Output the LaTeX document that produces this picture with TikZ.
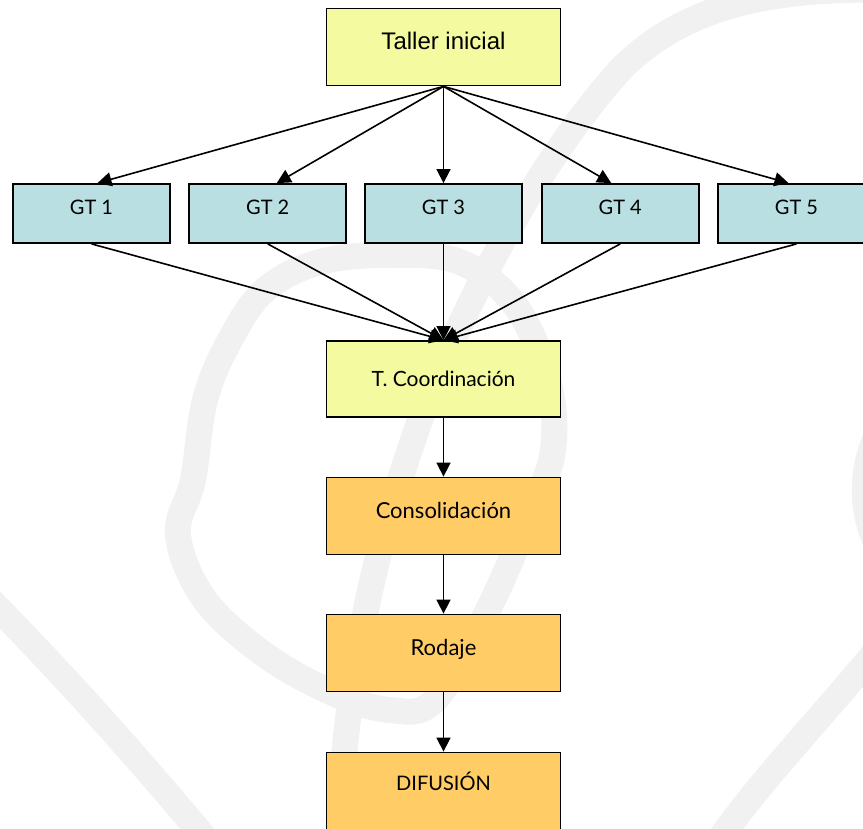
\documentclass[tikz,border=0pt]{standalone}
\usepackage{fontspec}
\setmainfont{Lato}
\newfontfamily\arialf{Liberation Sans}
\usetikzlibrary{arrows.meta,calc}
\definecolor{ylw}{RGB}{243,250,160}
\definecolor{cyn}{RGB}{185,223,226}
\definecolor{org}{RGB}{255,204,102}
\definecolor{wmk}{RGB}{241,241,241}
\begin{document}
\begin{tikzpicture}[x=1pt,y=-1pt]
\tikzset{
  wm/.style={draw=wmk, line width=26pt, line cap=round},
  bigbox/.style={draw=black, line width=1.8pt, minimum width=234pt, minimum height=77pt, inner sep=0pt, text depth=10pt, font=\fontsize{21}{25}\selectfont},
  gtbox/.style={draw=black, line width=1.8pt, fill=cyn, minimum width=157pt, minimum height=59pt, inner sep=0pt, text depth=10pt, text height=12pt, font=\fontsize{20}{24}\selectfont},
  conn/.style={line width=1.6pt, -{Triangle[length=14pt,width=14pt]}}
}
% background and bounding box
\fill[white] (0,0) rectangle (863,829);
\useasboundingbox (0,0) rectangle (863,829);
% watermark
\begin{scope}
\clip (0,0) rectangle (863,829);
\draw[wm] (900,-10) .. controls (760,-14) and (680,10) .. (620,70) .. controls (540,160) and (470,290) .. (420,420) .. controls (385,520) and (345,650) .. (338,850);
\draw[wm] plot[smooth cycle, tension=0.6] coordinates {(193,480) (205,400) (230,340) (265,290) (320,262) (390,255) (460,262) (515,305) (548,380) (553,450) (530,514) (487,612) (435,700) (390,710) (333,693) (265,655) (205,600) (178,535)};
\draw[wm] (-20,590) .. controls (60,670) and (140,760) .. (215,850);
\draw[wm] (885,640) .. controls (820,720) and (760,780) .. (712,850);
\draw[wm] (885,420) .. controls (858,465) and (858,515) .. (885,560);
\end{scope}
% nodes
\node[bigbox, fill=ylw, font=\arialf\fontsize{24}{28}\selectfont, text height=15pt] (taller) at (443.5,47) {Taller inicial};
\node[gtbox] (gt1) at (91.5,213.5) {GT 1};
\node[gtbox] (gt2) at (267.75,213.5) {GT 2};
\node[gtbox] (gt3) at (443.5,213.5) {GT 3};
\node[gtbox] (gt4) at (620.25,213.5) {GT 4};
\node[gtbox] (gt5) at (796.5,213.5) {GT 5};
\node[bigbox, fill=ylw, text height=24pt, minimum height=76pt] (coord) at (443.5,379) {T. Coordinación};
\node[bigbox, fill=org, text height=14pt, font=\fontsize{22}{26}\selectfont] (consol) at (443.5,516) {Consolidación};
\node[bigbox, fill=org, text height=14pt, font=\fontsize{22}{26}\selectfont] (rodaje) at (443.5,653) {Rodaje};
\node[bigbox, fill=org, text height=8pt, font=\fontsize{20}{24}\selectfont] (difus) at (443.5,791) {DIFUSIÓN};
% connectors
\draw[conn] (taller.south) -- ($(gt1.north)+(6,0)$);
\draw[conn] (taller.south) -- ($(gt2.north)+(9,0)$);
\draw[conn] (taller.south) -- (gt3.north);
\draw[conn] (taller.south) -- ($(gt4.north)+(-9,0)$);
\draw[conn] (taller.south) -- ($(gt5.north)+(-8,0)$);
\draw[conn] (gt1.south) -- (coord.north);
\draw[conn] (gt2.south) -- (coord.north);
\draw[conn] (gt3.south) -- (coord.north);
\draw[conn] (gt4.south) -- (coord.north);
\draw[conn] (gt5.south) -- (coord.north);
\draw[conn] (coord.south) -- (consol.north);
\draw[conn] (consol.south) -- (rodaje.north);
\draw[conn] (rodaje.south) -- (difus.north);
\end{tikzpicture}
\end{document}
